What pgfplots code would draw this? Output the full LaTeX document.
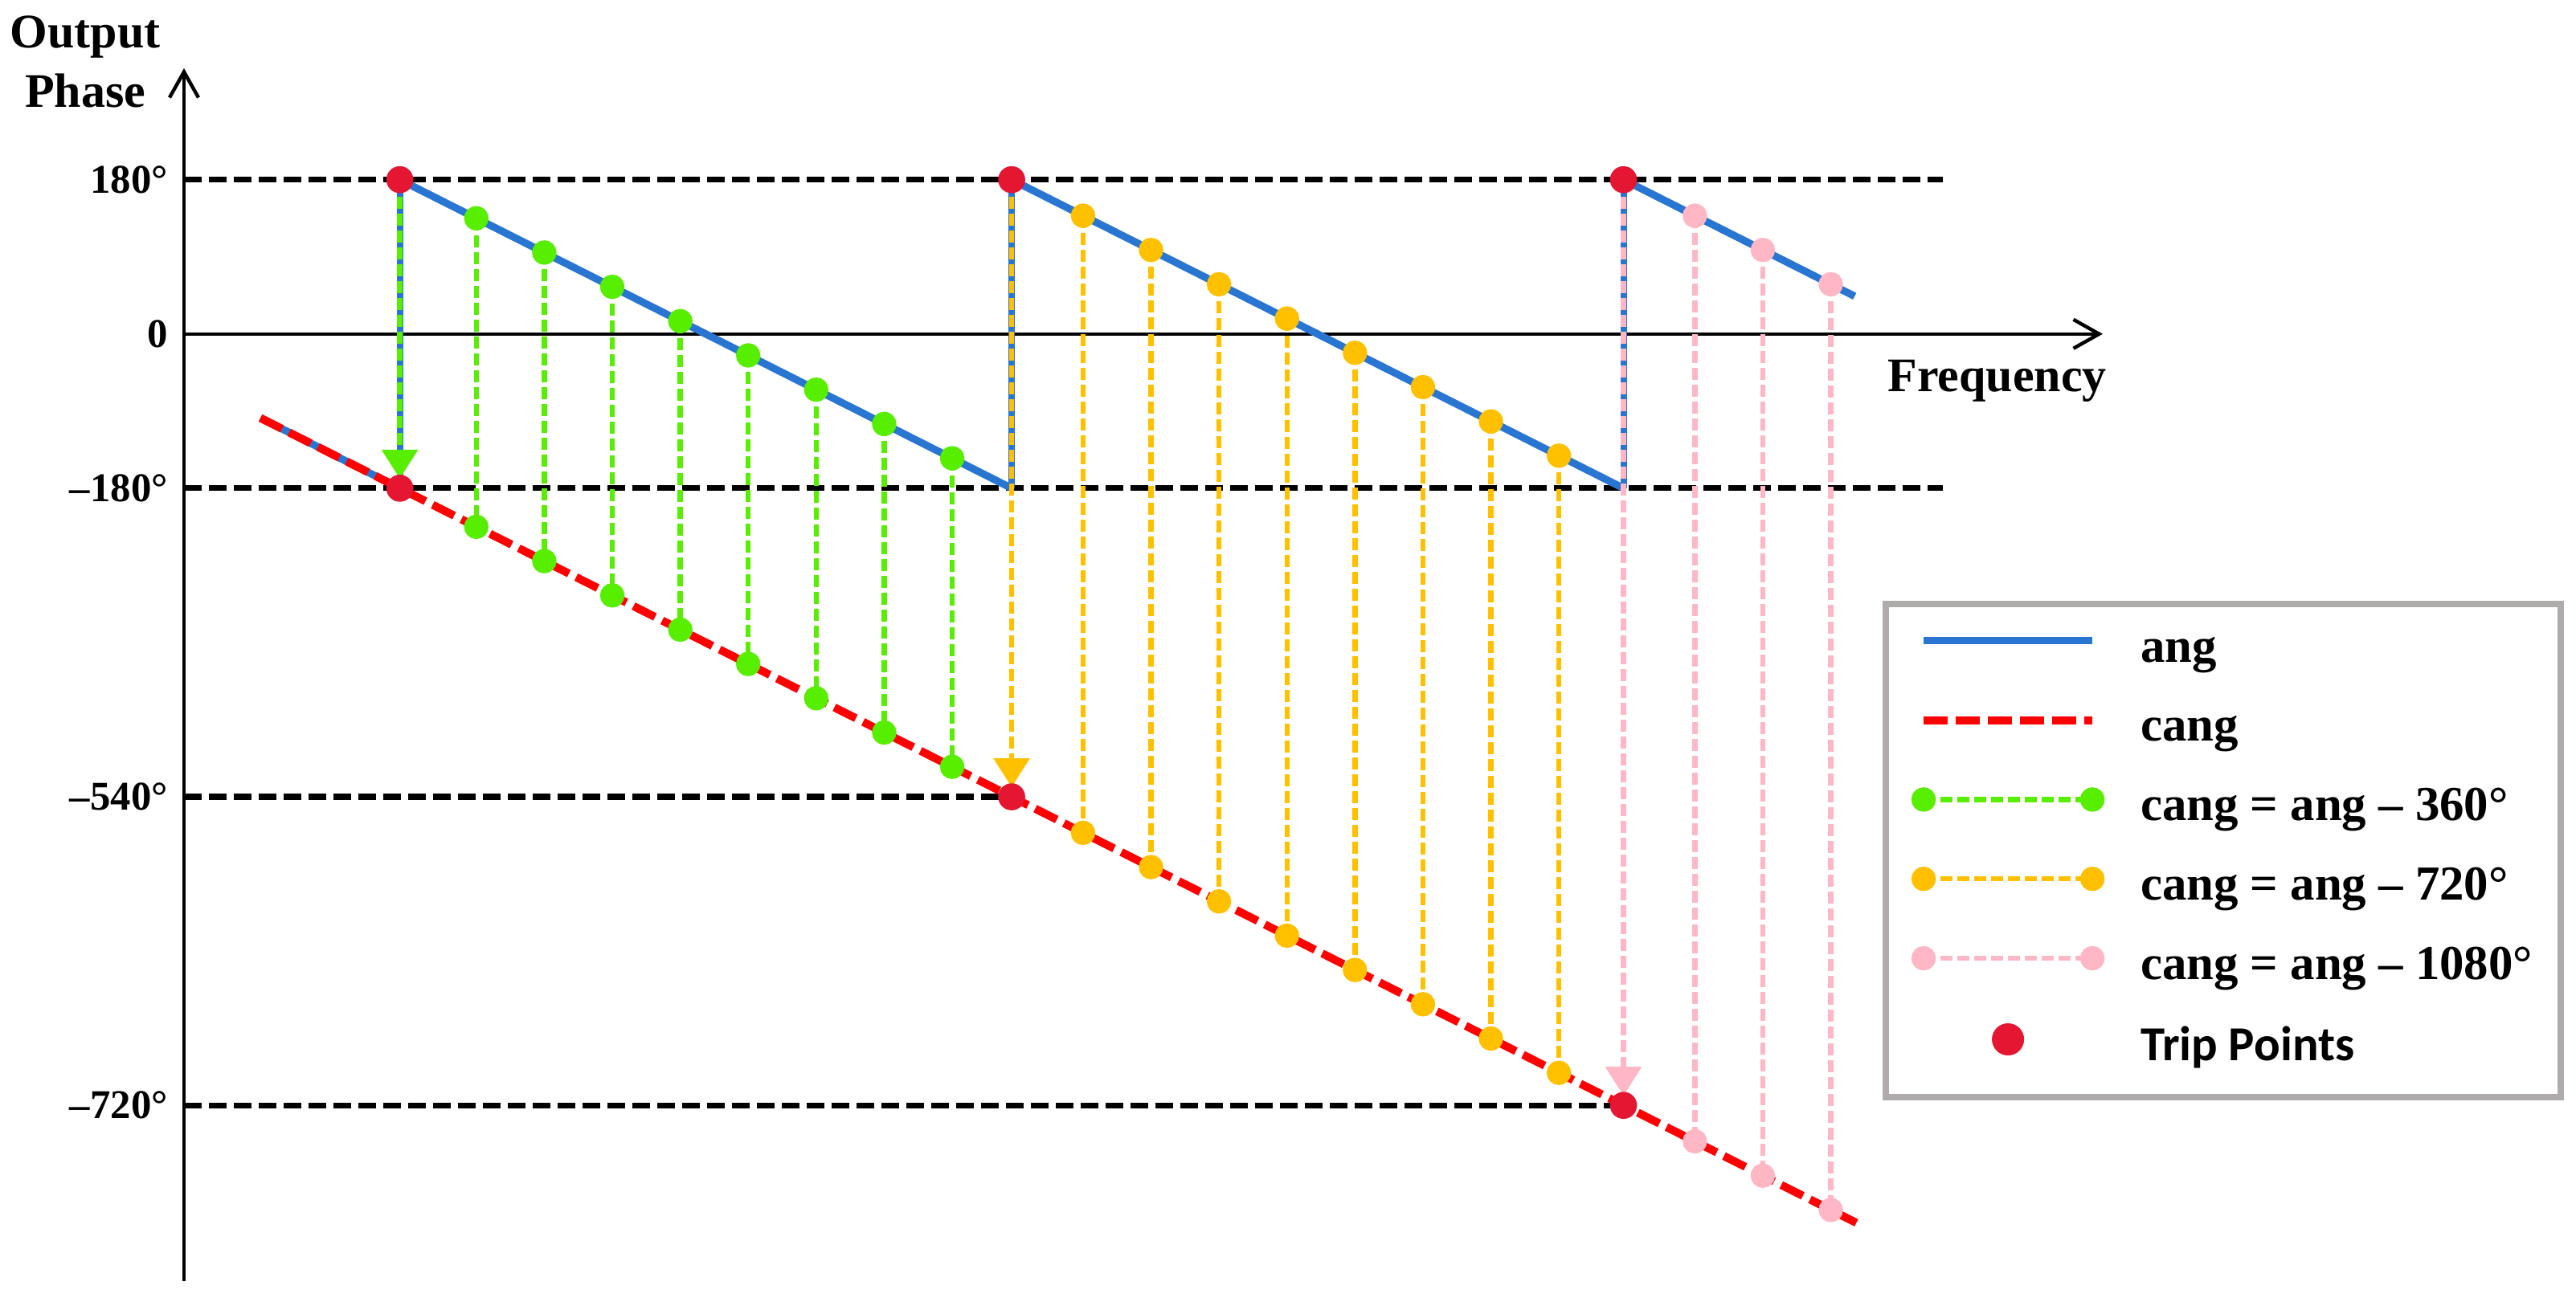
\documentclass[border=0pt]{standalone}
\usepackage{fontspec}
\setmainfont{Liberation Serif}
\newfontfamily\carlito{Carlito}
\usepackage{pgfplots}
\pgfplotsset{compat=1.18}
\usetikzlibrary{arrows.meta}
\definecolor{angblue}{RGB}{40,118,210}
\definecolor{cangred}{RGB}{255,0,0}
\definecolor{trip}{RGB}{228,22,50}
\definecolor{grn}{RGB}{88,238,0}
\definecolor{org}{RGB}{255,192,0}
\definecolor{pnk}{RGB}{255,183,197}
\definecolor{lgray}{RGB}{175,171,171}
\pgfplotsset{
  lineleg/.style={legend image code/.code={\draw[##1] plot coordinates {(0pt,3.3pt) (52.5pt,3.3pt)};}},
  tripleg/.style={legend image code/.code={\draw[##1] plot coordinates {(26.25pt,3.3pt)};}},
  vline/.style={line width=1.6pt, dash pattern=on 3.75pt off 1.5pt},
  dotmark/.style={mark=*, mark size=3pt, mark options={solid, draw=none, fill=#1}},
}
\begin{document}
\begin{tikzpicture}
\begin{axis}[
  scale only axis, width=597pt, height=377.5pt,
  xmin=-127, xmax=1002, ymin=-1105, ymax=310,
  axis x line=middle, axis y line=left,
  x axis line style={line width=1.1pt, -{Straight Barb[length=8pt,width=9pt]}},
  y axis line style={line width=1.1pt, -{Straight Barb[length=8pt,width=9pt]}},
  xtick=\empty,
  ytick={180,0,-180,-540,-900},
  yticklabels={180°,0,–180°,–540°,–720°},
  major tick length=0pt,
  yticklabel style={font=\bfseries\fontsize{12.7}{15}\selectfont, xshift=-1.5pt},
  clip=false,
  unbounded coords=jump,
  legend style={at={(0.8853,0.5609)}, anchor=north west,
    draw=lgray, line width=2pt,
    inner xsep=8.75pt, inner ysep=8pt,
    font=\bfseries\fontsize{15.2}{18}\selectfont,
    row sep=11.2pt, column sep=12pt,
    nodes={inner sep=0pt, text height=10pt, text depth=3.5pt}},
  legend cell align=left,
  lineleg,
]
\coordinate (O) at (rel axis cs:0,0);
% reference dashed lines
\addplot[black, line width=1.8pt, dash pattern=on 5.5pt off 2.25pt, forget plot] coordinates {(-127,180) (908,180)};
\addplot[black, line width=1.8pt, dash pattern=on 5.5pt off 2.25pt, forget plot] coordinates {(-127,-180) (908,-180)};
\addplot[black, line width=1.8pt, dash pattern=on 5.5pt off 2.25pt, forget plot] coordinates {(-127,-540) (360,-540)};
\addplot[black, line width=1.8pt, dash pattern=on 5.5pt off 2.25pt, forget plot] coordinates {(-127,-900) (720,-900)};
% ang jumps (thin blue)
\addplot[angblue, line width=2pt, forget plot] coordinates {(0,180) (0,-180) (0,nan) (360,180) (360,-180) (360,nan) (720,180) (720,-180)};
% blue under red at the start
\addplot[angblue, line width=2.3pt, forget plot] coordinates {(-82,-98) (0,-180)};
% cang
\addplot[cangred, line width=2.5pt, dash pattern=on 7.5pt off 2.5pt, forget plot] coordinates {(-82,-98) (857,-1037)};
% ang
\addplot[angblue, line width=2.3pt, forget plot] coordinates {(0,180) (360,-180) (360,nan) (360,180) (720,-180) (720,nan) (720,180) (856,44)};
% arrows at trip points
\addplot[grn, vline, shorten >=3pt, -{Triangle[width=11pt,length=9pt]}, forget plot] coordinates {(0,180) (0,-180)};
\addplot[org, vline, shorten >=3pt, -{Triangle[width=11pt,length=9pt]}, forget plot] coordinates {(360,180) (360,-540)};
\addplot[pnk, vline, shorten >=3pt, -{Triangle[width=11pt,length=9pt]}, forget plot] coordinates {(720,180) (720,-900)};
% cang = ang - 360
\addplot[grn, vline, dotmark=grn, forget plot] coordinates {
 (45,135) (45,-225) (45,nan)
 (85,95) (85,-265) (85,nan)
 (125,55) (125,-305) (125,nan)
 (165,15) (165,-345) (165,nan)
 (205,-25) (205,-385) (205,nan)
 (245,-65) (245,-425) (245,nan)
 (285,-105) (285,-465) (285,nan)
 (325,-145) (325,-505)};
% cang = ang - 720
\addplot[org, vline, dotmark=org, forget plot] coordinates {
 (402,138) (402,-582) (402,nan)
 (442,98) (442,-622) (442,nan)
 (482,58) (482,-662) (482,nan)
 (522,18) (522,-702) (522,nan)
 (562,-22) (562,-742) (562,nan)
 (602,-62) (602,-782) (602,nan)
 (642,-102) (642,-822) (642,nan)
 (682,-142) (682,-862)};
% cang = ang - 1080
\addplot[pnk, vline, dotmark=pnk, forget plot] coordinates {
 (762,138) (762,-942) (762,nan)
 (802,98) (802,-982) (802,nan)
 (842,58) (842,-1022)};
% trip points
\addplot[trip, only marks, mark=*, mark size=4pt, mark options={draw=none, fill=trip}, forget plot] coordinates {(0,180) (0,-180) (360,180) (360,-540) (720,180) (720,-900)};
% labels
\node[font=\bfseries\fontsize{15}{18.5}\selectfont, align=center] at (axis cs:-185,318) {Output\\Phase};
\node[font=\bfseries\fontsize{15}{18}\selectfont] at (axis cs:940,-55) {Frequency};
% legend
\addlegendimage{angblue, line width=2.3pt}
\addlegendentry{ang}
\addlegendimage{cangred, line width=2.5pt, dash pattern=on 7.5pt off 2.5pt}
\addlegendentry{cang}
\addlegendimage{grn, vline, dotmark=grn}
\addlegendentry{cang = ang – 360°}
\addlegendimage{org, vline, dotmark=org}
\addlegendentry{cang = ang – 720°}
\addlegendimage{pnk, vline, dotmark=pnk}
\addlegendentry{cang = ang – 1080°}
\addlegendimage{tripleg, trip, only marks, mark=*, mark size=4pt, mark options={draw=none, fill=trip}}
\addlegendentry{\carlito\bfseries Trip Points}
\end{axis}
\pgfresetboundingbox
\path[use as bounding box] (O) ++(-57.25pt,-8.75pt) rectangle ++(801.5pt,407.5pt);
\end{tikzpicture}
\end{document}
